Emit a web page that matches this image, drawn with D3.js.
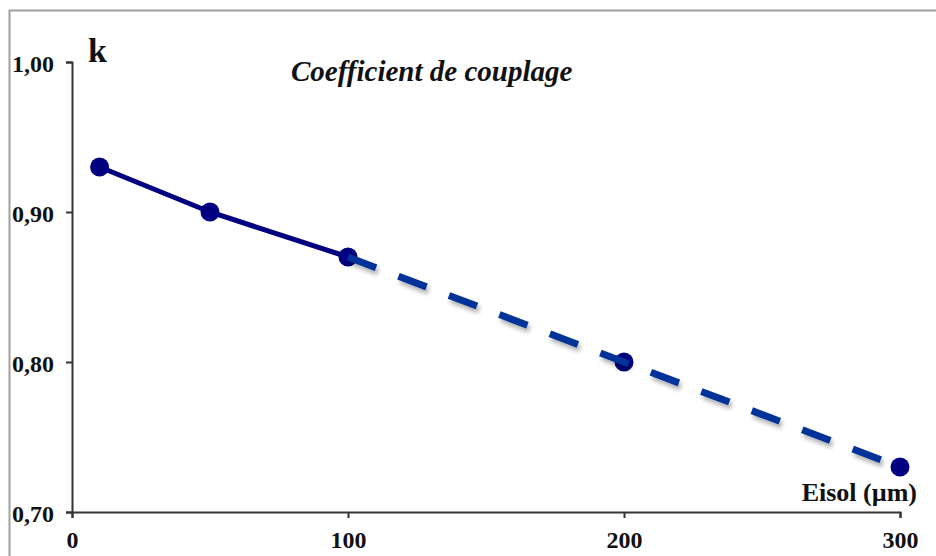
<!DOCTYPE html>
<html>
<head>
<meta charset="utf-8">
<script src="https://cdn.jsdelivr.net/npm/d3@7"></script>
<style>
  body { margin: 0; background: #fff; }
  svg text { font-family: "Liberation Serif", "Times New Roman", serif; font-weight: bold; fill: #111; }
</style>
</head>
<body>
<div id="chart"></div>
<script>
// data
const thickness = [10, 50, 100, 200, 300];      // Eisol (µm)
const kValues   = [0.93, 0.90, 0.87, 0.80, 0.73];
const xTicks = [0, 100, 200, 300];
const yTicks = [0.70, 0.80, 0.90, 1.00];
const measuredUpTo = 100;   // solid part ends here, dashed after

const W = 936, H = 556;
const margin = {top: 62, right: 36, bottom: 44, left: 72};

const svg = d3.select("#chart").append("svg")
    .attr("width", W)
    .attr("height", H);

// shadow for the dashed part
const defs = svg.append("defs");
const f = defs.append("filter").attr("id", "shadow")
    .attr("x", "-10%").attr("y", "-10%").attr("width", "130%").attr("height", "150%");
f.append("feDropShadow").attr("dx", 2).attr("dy", 4).attr("stdDeviation", 2)
    .attr("flood-color", "#000").attr("flood-opacity", 0.3);

// outer frame (goes off the right / bottom edge)
svg.append("rect")
    .attr("x", 9.5).attr("y", 10.5)
    .attr("width", W + 20).attr("height", H + 20)
    .attr("fill", "none").attr("stroke", "#a0a0a0").attr("stroke-width", 2);

const x = d3.scaleLinear().domain([0, 300]).range([margin.left, W - margin.right]);
const y = d3.scaleLinear().domain([0.70, 1.00]).range([H - margin.bottom, margin.top]);

const xAxis = d3.axisBottom(x).tickValues(xTicks).tickSize(6).tickPadding(10)
    .tickFormat(d3.format("d"));
const yAxis = d3.axisLeft(y).tickValues(yTicks).tickSize(6).tickPadding(12)
    .tickFormat(d => d.toFixed(2).replace(".", ","));

const gx = svg.append("g").attr("transform", "translate(0," + y(0.70) + ")").call(xAxis);
const gy = svg.append("g").attr("transform", "translate(" + x(0) + ",0)").call(yAxis);

[gx, gy].forEach(g => {
    g.select(".domain").attr("stroke", "#333").attr("stroke-width", 2);
    g.selectAll(".tick line").attr("stroke", "#333").attr("stroke-width", 2);
    g.selectAll(".tick text").attr("font-size", "24px").attr("fill", "#111")
        .style("font-family", "'Liberation Serif', serif").style("font-weight", "bold");
});
gx.selectAll(".tick text").attr("dy", "0.85em");
gy.selectAll(".tick text").attr("dy", "0.4em");

const pts = thickness.map((t, i) => ({x: t, k: kValues[i]}));
const line = d3.line().x(d => x(d.x)).y(d => y(d.k));

// solid part
svg.append("path")
    .datum(pts.filter(d => d.x <= measuredUpTo))
    .attr("d", line)
    .attr("fill", "none")
    .attr("stroke", "#000080")
    .attr("stroke-width", 5);

// markers
svg.append("g").selectAll("circle")
    .data(pts)
    .enter()
    .append("circle")
    .attr("cx", d => x(d.x))
    .attr("cy", d => y(d.k))
    .attr("r", 9.5)
    .attr("fill", "#000080");

// dashed extrapolation
svg.append("path")
    .datum(pts.filter(d => d.x >= measuredUpTo))
    .attr("d", line)
    .attr("fill", "none")
    .attr("stroke", "#003399")
    .attr("stroke-width", 7)
    .attr("stroke-dasharray", "30,24")
    .attr("filter", "url(#shadow)");

// labels
svg.append("text")
    .attr("x", 88).attr("y", 62)
    .attr("font-size", "34px")
    .text("k");

svg.append("text")
    .attr("x", 291).attr("y", 81)
    .attr("font-size", "29px")
    .attr("font-style", "italic")
    .text("Coefficient de couplage");

svg.append("text")
    .attr("x", 917).attr("y", 501)
    .attr("text-anchor", "end")
    .attr("font-size", "26px")
    .text("Eisol (µm)");
</script>
</body>
</html>
